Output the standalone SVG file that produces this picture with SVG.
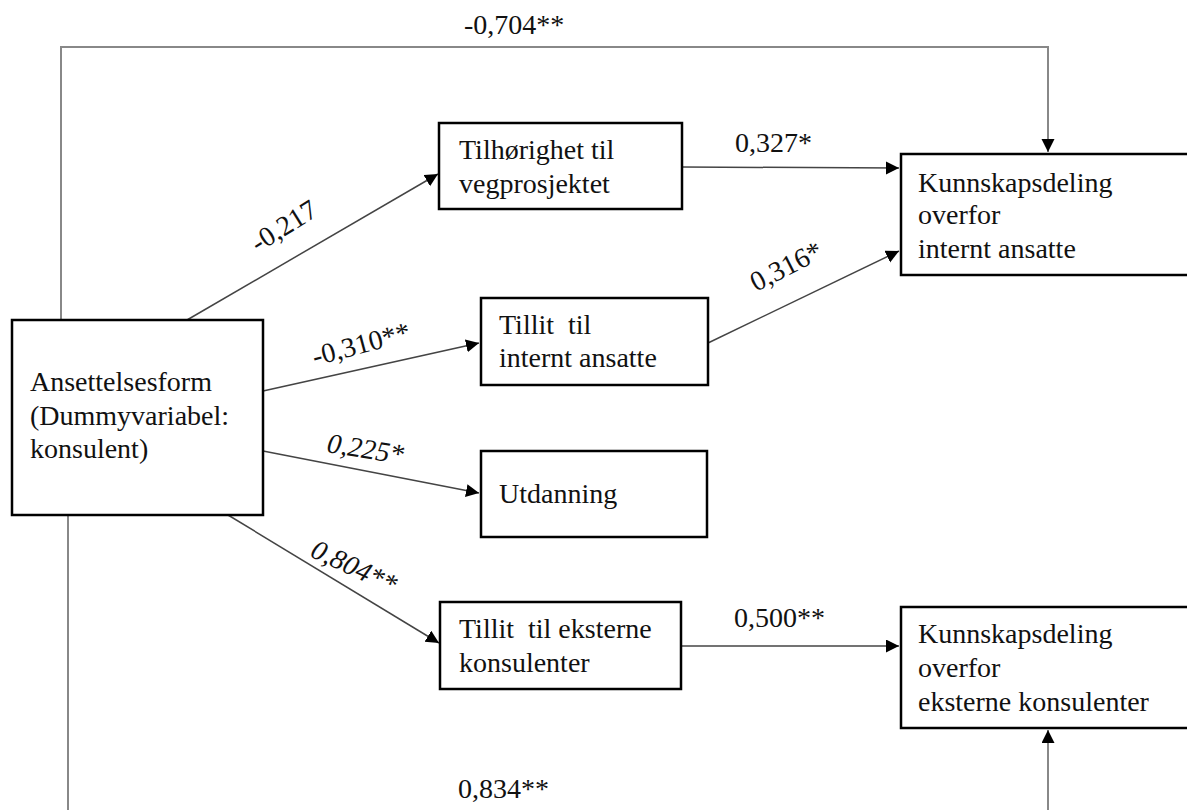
<svg xmlns="http://www.w3.org/2000/svg" width="1187" height="810" viewBox="0 0 1187 810">
<style>
text{font-family:"Liberation Serif","Times New Roman",serif;font-size:28px;fill:#111}
.box{fill:#fff;stroke:#000;stroke-width:2.5}
.c{fill:none;stroke:#444;stroke-width:1.5}
.g{fill:none;stroke:#888;stroke-width:2}
.i{font-style:italic}
</style>
<defs>
<marker id="ah" markerUnits="userSpaceOnUse" markerWidth="14" markerHeight="14" refX="13" refY="6.5" orient="auto">
<path d="M0,0 L13,6.5 L0,13 Z" fill="#000"/>
</marker>
</defs>
<rect width="1187" height="810" fill="#fff"/>
<g id="connectors">
<path class="g" d="M61,320 V47 H1048 V152" marker-end="url(#ah)"/>
<path class="g" d="M68,515 V820 H1048 V730" marker-end="url(#ah)"/>
<path class="c" d="M187,320 L438,174" marker-end="url(#ah)"/>
<path class="c" d="M682,167 L899,168" marker-end="url(#ah)"/>
<path class="c" d="M263,391 L479,343" marker-end="url(#ah)"/>
<path class="c" d="M708,343 L899,251" marker-end="url(#ah)"/>
<path class="c" d="M263,451 L479,493" marker-end="url(#ah)"/>
<path class="c" d="M228,515 L439,643" marker-end="url(#ah)"/>
<path class="c" d="M681,646 L899,646" marker-end="url(#ah)"/>
<text x="464" y="34">-0,704**</text>
<text x="735" y="152">0,327*</text>
<text transform="translate(258,253) rotate(-32)">-0,217</text>
<text transform="translate(315,366) rotate(-15)">-0,310**</text>
<text transform="translate(756,292) rotate(-27)">0,316*</text>
<text class="i" transform="translate(326,452) rotate(9)">0,225*</text>
<text class="i" transform="translate(309,556) rotate(25)">0,804**</text>
<text x="734" y="627">0,500**</text>
<text x="458" y="798">0,834**</text>
</g>
<g id="ansettelsesform">
<rect class="box" x="12" y="320" width="251" height="195"/>
<text x="30" y="391">Ansettelsesform</text>
<text x="30" y="425">(Dummyvariabel:</text>
<text x="30" y="458">konsulent)</text>
</g>
<g id="tilhorighet">
<rect class="box" x="439" y="123" width="243" height="86"/>
<text x="459" y="159">Tilhørighet til</text>
<text x="459" y="193">vegprosjektet</text>
</g>
<g id="tillit-internt">
<rect class="box" x="481" y="298" width="227" height="87"/>
<text x="499" y="334" xml:space="preserve">Tillit  til</text>
<text x="499" y="367">internt ansatte</text>
</g>
<g id="utdanning">
<rect class="box" x="481" y="451" width="226" height="86"/>
<text x="499" y="503">Utdanning</text>
</g>
<g id="tillit-eksterne">
<rect class="box" x="440" y="602" width="241" height="87"/>
<text x="459" y="638" xml:space="preserve">Tillit  til eksterne</text>
<text x="459" y="672">konsulenter</text>
</g>
<g id="kunnskap-internt">
<rect class="box" x="901" y="154" width="300" height="121"/>
<text x="918" y="192">Kunnskapsdeling</text>
<text x="918" y="224">overfor</text>
<text x="918" y="258">internt ansatte</text>
</g>
<g id="kunnskap-eksterne">
<rect class="box" x="901" y="607" width="300" height="121"/>
<text x="918" y="643">Kunnskapsdeling</text>
<text x="918" y="677">overfor</text>
<text x="918" y="711">eksterne konsulenter</text>
</g>
</svg>
